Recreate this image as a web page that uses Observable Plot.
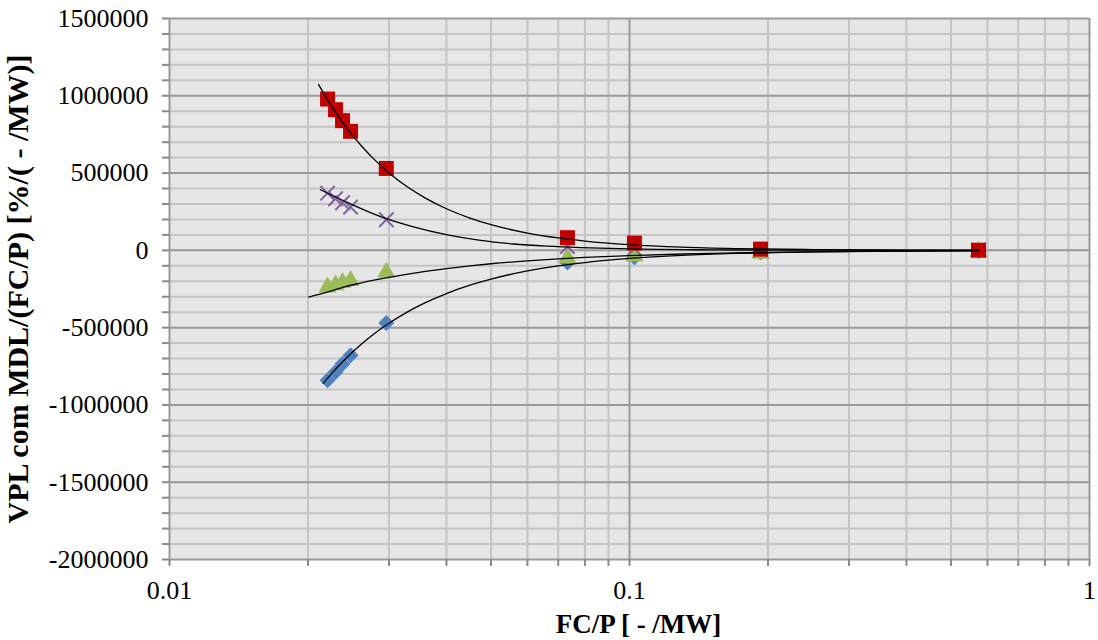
<!DOCTYPE html>
<html>
<head>
<meta charset="utf-8">
<script src="https://cdn.jsdelivr.net/npm/d3@7"></script>
<script src="https://cdn.jsdelivr.net/npm/@observablehq/plot@0.6"></script>
<style>
  html, body { margin: 0; padding: 0; background: #ffffff; }
  #chart svg { display: block; }
</style>
</head>
<body>
<div id="chart"></div>
<script>
// FC/P values shared by every series
const fcp = [0.02206, 0.02296, 0.02378, 0.02475, 0.0296, 0.0733, 0.1025, 0.1927, 0.5737];

// VPL com MDL/(FC/P) for each series
const blueVals   = [-841000, -787000, -733000, -679000, -470000, -78000, -45000, -13000, -4000];
const greenVals  = [-238000, -224000, -208000, -195000, -142000, -48000, -38000, -20000, -8000];
const purpleVals = [370000, 334000, 308000, 280000, 198000, 25000, 12000, 3000, 1000];
const redVals    = [979000, 910000, 839000, 770000, 530000, 82000, 47000, 8000, 1000];

// Trend lines drawn through each series
const trendX = [0.0225, 0.024, 0.026, 0.028, 0.03, 0.033, 0.036, 0.04, 0.045, 0.05, 0.06, 0.07, 0.08, 0.1, 0.13, 0.17, 0.25, 0.4, 0.5737];
const redTrendStart = {x: 0.02109, y: 1073000};
const redTrendY   = [933000, 812000, 683000, 582000, 501000, 408000, 338000, 269000, 209000, 166000, 112000, 80500, 60300, 37300, 21100, 11800, 5150, 1870, 860];
const greenTrendStart = {x: 0.02007, y: -302000};
const greenTrendY = [-262000, -236500, -212000, -191600, -174300, -153100, -135800, -117700, -100100, -86700, -67600, -54800, -45600, -33600, -23500, -16300, -9600, -5100, -3100];
const blueTrendStart = {x: 0.02159, y: -860000};
const blueTrendY  = [-797700, -709000, -612600, -535200, -472000, -396600, -338500, -279300, -225300, -185900, -133300, -100600, -78900, -52500, -32500, -19900, -9900, -4200, -2200];
const purpleTrendX = [0.02128, 0.02434, 0.02876, 0.03391, 0.04021, 0.04745, 0.05596, 0.06634, 0.07825, 0.1, 0.15, 0.25, 0.5737];
const purpleTrendY = [392000, 310000, 218000, 152000, 100000, 64000, 41000, 27000, 18000, 9000, 3500, 1200, 200];

// Axis ticks
const xMajor = [0.01, 0.1, 1];
const xMinor = [0.02, 0.03, 0.04, 0.05, 0.06, 0.07, 0.08, 0.09, 0.2, 0.3, 0.4, 0.5, 0.6, 0.7, 0.8, 0.9];
const yMajor = [-2000000, -1500000, -1000000, -500000, 0, 500000, 1000000, 1500000];
const yMinor = d3.range(-2000000, 1500001, 100000).filter(v => v % 500000 !== 0);

const xTitle = "FC/P [ - /MW]";
const yTitle = "VPL com MDL/(FC/P) [%/( - /MW)]";

const pts = vals => fcp.map((x, i) => ({x, y: vals[i]}));
const trend = (start, xs, ys) => [start, ...xs.map((x, i) => ({x, y: ys[i]}))];
const purpleTrend = purpleTrendX.map((x, i) => ({x, y: purpleTrendY[i]}));

const minorColor = "#c4c4c4";
const majorColor = "#9a9a9a";
const tickColor = "#8a8a8a";
const lineOpts = {x: "x", y: "y", stroke: "#000", strokeWidth: 1.3, curve: "monotone-x"};

const chart = Plot.plot({
  width: 1098,
  height: 640,
  marginLeft: 169,
  marginRight: 9,
  marginTop: 18,
  marginBottom: 81,
  style: {fontFamily: "'Liberation Serif', 'Times New Roman', serif", fontSize: "26px", color: "#000", background: "#fff"},
  x: {type: "log", domain: [0.01, 1]},
  y: {domain: [-2000000, 1500000]},
  marks: [
    Plot.frame({fill: "#e6e6e6", stroke: null}),
    // grid
    Plot.ruleX(xMinor, {stroke: minorColor, strokeWidth: 2}),
    Plot.ruleY(yMinor, {stroke: minorColor, strokeWidth: 2}),
    Plot.ruleX(xMajor, {stroke: majorColor, strokeWidth: 2}),
    Plot.ruleY(yMajor, {stroke: majorColor, strokeWidth: 2}),
    // axes
    Plot.axisY(yMinor, {tickSize: 7, stroke: tickColor, strokeWidth: 2, tickFormat: () => "", label: null}),
    Plot.axisY(yMajor, {tickSize: 7, tickPadding: 14, stroke: tickColor, strokeWidth: 2, fill: "#000", fontSize: 26, tickFormat: d => String(d), label: null}),
    Plot.axisX(xMinor, {tickSize: 7, stroke: tickColor, strokeWidth: 2, tickFormat: () => "", label: null}),
    Plot.axisX(xMajor, {tickSize: 7, tickPadding: 14, stroke: tickColor, strokeWidth: 2, fill: "#000", fontSize: 26, tickFormat: d => String(d), label: null}),
    // markers
    Plot.dot(pts(blueVals), {x: "x", y: "y", symbol: "diamond2", r: 7.2, fill: "#4f81bd"}),
    Plot.dot(pts(greenVals), {x: "x", y: "y", symbol: "triangle", r: 6.8, fill: "#9bbb59"}),
    Plot.dot(pts(purpleVals), {x: "x", y: "y", symbol: "times", r: 6.6, stroke: "#8064a2", strokeWidth: 2, fill: "none"}),
    Plot.dot(pts(redVals), {x: "x", y: "y", symbol: "square", r: 8.46, fill: "#c00000"}),
    // trend lines
    Plot.line(trend(blueTrendStart, trendX, blueTrendY), lineOpts),
    Plot.line(trend(greenTrendStart, trendX, greenTrendY), lineOpts),
    Plot.line(purpleTrend, lineOpts),
    Plot.line(trend(redTrendStart, trendX, redTrendY), lineOpts),
    // axis titles
    Plot.text([xTitle], {frameAnchor: "bottom", dx: 9, dy: 65, textAnchor: "middle", lineAnchor: "middle", fontWeight: "bold", fontSize: 27, fill: "#000"}),
    Plot.text([yTitle], {frameAnchor: "left", dx: -151, rotate: -90, textAnchor: "middle", lineAnchor: "middle", fontWeight: "bold", fontSize: 30, fill: "#000"})
  ]
});

document.getElementById("chart").appendChild(chart);
</script>
</body>
</html>
